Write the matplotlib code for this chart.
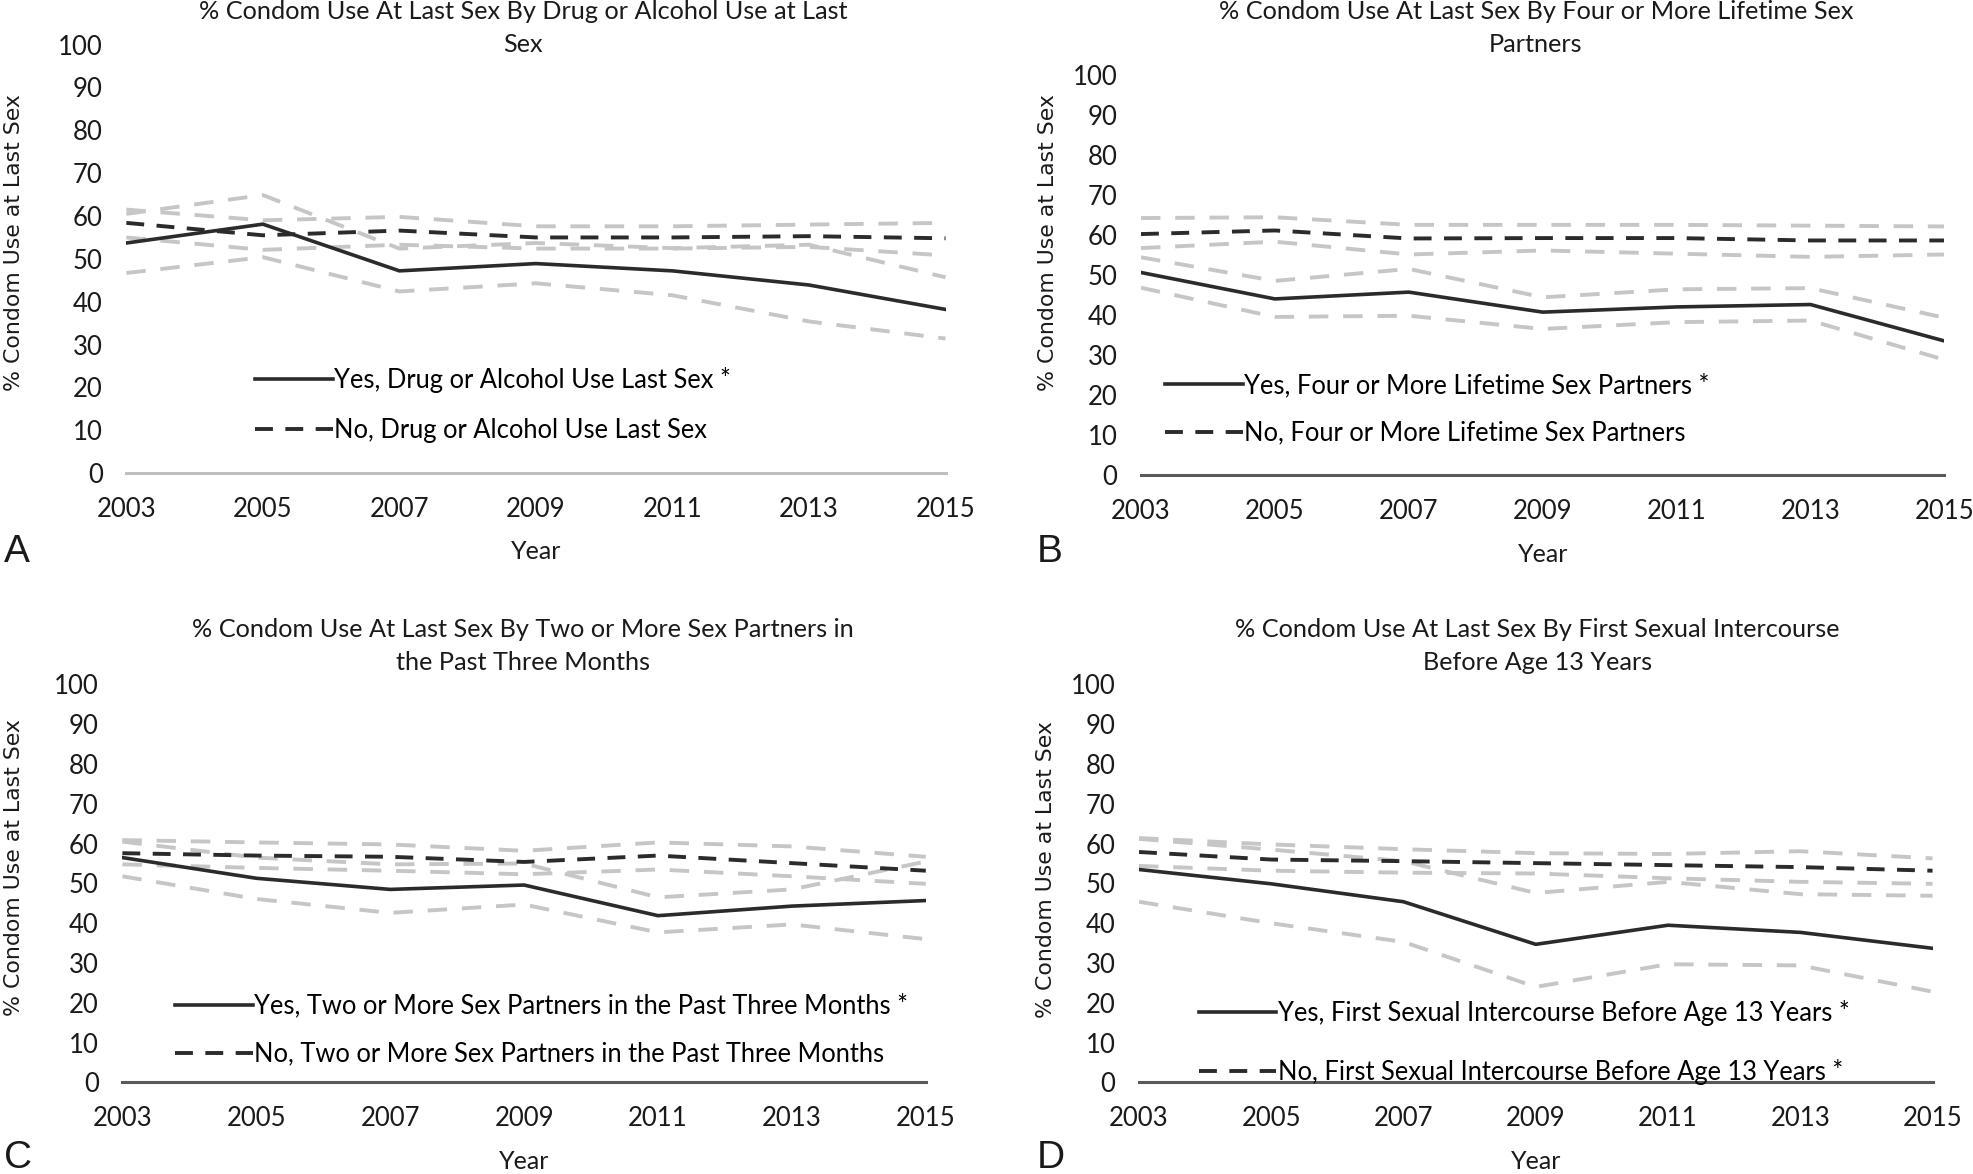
import matplotlib
matplotlib.use("Agg")
import matplotlib.pyplot as plt
from matplotlib.lines import Line2D

plt.rcParams['font.family'] = ['Lato', 'DejaVu Sans']

years = [2003, 2005, 2007, 2009, 2011, 2013, 2015]

# Panel A
a_yes = [53.7, 58.1, 47.2, 48.9, 47.2, 43.9, 38.2]
a_yes_lo = [46.7, 50.4, 42.4, 44.3, 41.5, 35.4, 31.4]
a_yes_hi = [60.5, 64.9, 52.4, 53.7, 52.5, 53.3, 45.7]
a_no = [58.4, 55.5, 56.6, 55.0, 55.0, 55.3, 54.8]
a_no_lo = [55.0, 52.1, 53.3, 52.4, 52.4, 52.8, 50.8]
a_no_hi = [61.5, 59.0, 59.8, 57.6, 57.6, 58.0, 58.4]

# Panel B
b_yes = [50.7, 44.1, 45.8, 40.8, 42.1, 42.7, 33.6]
b_yes_lo = [46.9, 39.6, 39.9, 36.6, 38.3, 38.7, 28.9]
b_yes_hi = [54.5, 48.6, 51.6, 44.5, 46.5, 46.8, 39.4]
b_no = [60.3, 61.2, 59.2, 59.3, 59.3, 58.7, 58.7]
b_no_lo = [56.8, 58.4, 55.2, 56.2, 55.4, 54.6, 55.2]
b_no_hi = [64.3, 64.5, 62.6, 62.6, 62.6, 62.4, 62.2]

# Panel C
c_yes = [56.5, 51.3, 48.5, 49.6, 41.9, 44.3, 45.7]
c_yes_lo = [51.8, 46.1, 42.6, 44.7, 37.7, 39.7, 36.0]
c_yes_hi = [60.5, 56.5, 54.8, 55.0, 46.5, 48.5, 55.5]
c_no = [57.6, 57.0, 56.7, 55.4, 57.0, 55.1, 53.2]
c_no_lo = [54.8, 53.9, 53.2, 52.3, 53.5, 51.8, 49.9]
c_no_hi = [60.9, 60.3, 59.8, 58.2, 60.3, 59.3, 56.7]

# Panel D
d_yes = [53.5, 49.9, 45.4, 34.7, 39.5, 37.7, 33.7]
d_yes_lo = [45.4, 40.0, 35.3, 24.0, 29.7, 29.4, 22.8]
d_yes_hi = [61.2, 58.5, 55.6, 47.6, 50.4, 47.3, 46.9]
d_no = [57.9, 56.0, 55.6, 55.1, 54.6, 54.1, 53.2]
d_no_lo = [54.4, 53.2, 52.7, 52.5, 51.3, 50.4, 49.9]
d_no_hi = [61.4, 59.8, 58.6, 57.6, 57.4, 58.1, 56.3]

titles = [
    "% Condom Use At Last Sex By Drug or Alcohol Use at Last\nSex",
    "% Condom Use At Last Sex By Four or More Lifetime Sex\nPartners",
    "% Condom Use At Last Sex By Two or More Sex Partners in\nthe Past Three Months",
    "% Condom Use At Last Sex By First Sexual Intercourse\nBefore Age 13 Years",
]
yes_labels = [
    "Yes, Drug or Alcohol Use Last Sex *",
    "Yes, Four or More Lifetime Sex Partners *",
    "Yes, Two or More Sex Partners in the Past Three Months *",
    "Yes, First Sexual Intercourse Before Age 13 Years *",
]
no_labels = [
    "No, Drug or Alcohol Use Last Sex",
    "No, Four or More Lifetime Sex Partners",
    "No, Two or More Sex Partners in the Past Three Months",
    "No, First Sexual Intercourse Before Age 13 Years *",
]
letters = ["A", "B", "C", "D"]
yticks = list(range(0, 101, 10))
ylabel = "% Condom Use at Last Sex"
xlabel = "Year"

data = [
    (a_yes, a_yes_lo, a_yes_hi, a_no, a_no_lo, a_no_hi),
    (b_yes, b_yes_lo, b_yes_hi, b_no, b_no_lo, b_no_hi),
    (c_yes, c_yes_lo, c_yes_hi, c_no, c_no_lo, c_no_hi),
    (d_yes, d_yes_lo, d_yes_hi, d_no, d_no_lo, d_no_hi),
]

rects = [
    [0.064, 0.597, 0.415, 0.365],
    [0.578, 0.595, 0.407, 0.341],
    [0.062, 0.078, 0.407, 0.339],
    [0.577, 0.078, 0.402, 0.339],
]
title_pos = [(0.265, 1.0), (0.778, 1.0), (0.265, 0.474), (0.779, 0.474)]
letter_pos = [(0.002, 0.521), (0.525, 0.521), (0.002, 0.005), (0.525, 0.005)]
ylabel_pos = [(0.007, 0.793), (0.531, 0.793), (0.007, 0.261), (0.530, 0.259)]
legend_anchor = [(0.157, 0.07), (0.03, 0.075), (0.065, 0.04), (0.075, -0.007)]
legend_spacing = [1.0, 0.88, 0.9, 1.3]
base_colors = ['#bfbfbf', '#595959', '#595959', '#595959']

gray = '#c6c6c6'
black = '#2b2b2b'
gray_dash = (0, (5.0, 3.8))
black_dash = (0, (4.6, 3.2))

fig = plt.figure(figsize=(19.74, 11.74), dpi=100)

for i in range(4):
    ax = fig.add_axes(rects[i])
    yes, ylo, yhi, no, nlo, nhi = data[i]
    for s in (yhi, ylo, nhi, nlo):
        ax.plot(years, s, color=gray, lw=2.8, ls=gray_dash, zorder=2)
    ax.plot(years, no, color=black, lw=2.8, ls=black_dash, zorder=3)
    ax.plot(years, yes, color=black, lw=2.6, ls='-', zorder=4)
    ax.set_xlim(2003, 2015)
    ax.set_ylim(0, 100)
    ax.set_xticks(years)
    ax.set_yticks(yticks)
    ax.tick_params(axis='both', length=0, labelsize=18.5, colors='#1a1a1a')
    ax.tick_params(axis='x', pad=17)
    ax.tick_params(axis='y', pad=17)
    for sp in ('top', 'right', 'left'):
        ax.spines[sp].set_visible(False)
    ax.spines['bottom'].set_color(base_colors[i])
    ax.spines['bottom'].set_linewidth(2.2)
    ax.patch.set_visible(False)
    handles = [Line2D([], [], color=black, lw=2.6, ls='-'),
               Line2D([], [], color=black, lw=2.8, ls=black_dash)]
    ax.legend(handles, [yes_labels[i], no_labels[i]], loc='lower left',
              bbox_to_anchor=legend_anchor[i], frameon=False, fontsize=18.4,
              handlelength=3.05, handletextpad=0.05, labelspacing=legend_spacing[i],
              borderaxespad=0, borderpad=0)
    fig.text(title_pos[i][0], title_pos[i][1], titles[i], ha='center', va='top',
             fontsize=18.2, linespacing=1.55, color='#1a1a1a')
    fig.text(letter_pos[i][0], letter_pos[i][1], letters[i], ha='left', va='baseline',
             fontsize=28, family='Liberation Sans', color='#1a1a1a')
    fig.text(ylabel_pos[i][0], ylabel_pos[i][1], ylabel, rotation=90, ha='center',
             va='center', fontsize=15.8, family='DejaVu Sans', color='#1a1a1a')
    cx = rects[i][0] + rects[i][2] / 2
    fig.text(cx, rects[i][1] - 0.067, xlabel, ha='center', va='center',
             fontsize=18, color='#1a1a1a')

fig.savefig("out.png", dpi=100, facecolor='white')
